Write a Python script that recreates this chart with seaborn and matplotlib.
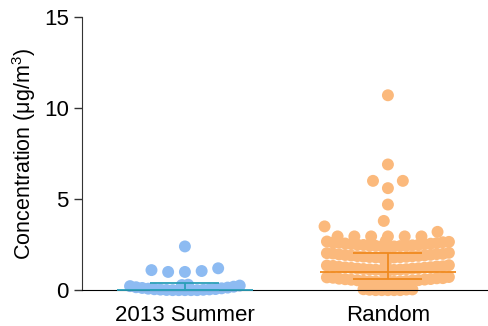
import pandas as pd
import seaborn as sns
import matplotlib
matplotlib.use("Agg")
import matplotlib.pyplot as plt

categories = ["2013 Summer", "Random"]

# closely packed (overlapping) points near the bottom of each column
summer_dense = [0.0, 0.0, 0.0, 0.0, 0.0, 0.01, 0.02, 0.03, 0.04, 0.05, 0.06, 0.08, 0.1,
                0.12, 0.14, 0.16, 0.19, 0.22, 0.25, 0.28, 0.3]
random_dense = [
    0.0, 0.0, 0.0, 0.0, 0.0, 0.02, 0.03, 0.04, 0.05,
    0.45, 0.45, 0.46, 0.47, 0.48, 0.49, 0.5, 0.51, 0.53, 0.54, 0.55, 0.57, 0.58, 0.6,
    0.61, 0.63, 0.65, 0.66, 0.68, 0.7, 0.72, 0.75,
    1.1, 1.1, 1.11, 1.12, 1.13, 1.14, 1.15, 1.16, 1.18, 1.19, 1.2, 1.22, 1.23, 1.25,
    1.26, 1.28, 1.3, 1.31, 1.33, 1.35, 1.37, 1.4,
    1.78, 1.78, 1.79, 1.8, 1.81, 1.82, 1.83, 1.84, 1.86, 1.87, 1.88, 1.9, 1.91, 1.93,
    1.94, 1.96, 1.98, 1.99, 2.01, 2.03, 2.05, 2.08,
    2.4, 2.4, 2.41, 2.42, 2.43, 2.44, 2.45, 2.46, 2.48, 2.49, 2.5, 2.52, 2.53, 2.55,
    2.56, 2.58, 2.6, 2.61, 2.63, 2.65, 2.67, 2.7,
]
# separated points higher up
summer_sparse = [1.0, 1.0, 1.05, 1.1, 1.2, 2.4]
random_sparse = [2.95, 2.95, 2.95, 2.95, 2.95, 2.95, 3.2, 3.5, 3.8, 4.7, 5.6, 6.0, 6.0,
                 6.9, 10.7]

# median and interquartile range drawn over each column
medians = [0.03, 0.99]
q1s = [0.0, 0.62]
q3s = [0.38, 2.03]

point_colors = ["#8dbbf2", "#fbb97c"]
line_colors = ["#2a9fb8", "#ef8a1f"]

dense_df = pd.DataFrame({
    "group": [categories[0]] * len(summer_dense) + [categories[1]] * len(random_dense),
    "value": summer_dense + random_dense,
})
sparse_df = pd.DataFrame({
    "group": [categories[0]] * len(summer_sparse) + [categories[1]] * len(random_sparse),
    "value": summer_sparse + random_sparse,
})

sns.set_style("ticks")
plt.rcParams["font.family"] = ["Liberation Sans", "DejaVu Sans"]
plt.rcParams["mathtext.default"] = "regular"
plt.rcParams["text.color"] = "black"
plt.rcParams["axes.labelcolor"] = "black"
plt.rcParams["xtick.color"] = "black"
plt.rcParams["ytick.color"] = "black"

fig = plt.figure(figsize=(4.88, 3.26), dpi=100)
ax = fig.add_axes([0.168, 0.110, 0.832, 0.838])

# swarm layout with a small spacing marker, then display larger overlapping markers
sns.swarmplot(data=dense_df, x="group", y="value", hue="group", palette=point_colors,
              order=categories, hue_order=categories, size=4.2, linewidth=0, ax=ax,
              legend=False, zorder=2)
sns.swarmplot(data=sparse_df, x="group", y="value", hue="group", palette=point_colors,
              order=categories, hue_order=categories, size=11.5, linewidth=0, ax=ax,
              legend=False, zorder=2)
ax.set_xlim(-0.507, 1.493)
ax.set_ylim(0, 15)
fig.canvas.draw()
for coll in ax.collections:
    if "draw" in coll.__dict__:
        del coll.draw
    coll.set_sizes([8.6 ** 2])
    coll.set_clip_on(False)

for i in range(len(categories)):
    ax.hlines(medians[i], i - 0.335, i + 0.335, color=line_colors[i], lw=1.3, zorder=3,
              clip_on=False)
    ax.hlines([q1s[i], q3s[i]], i - 0.17, i + 0.17, color=line_colors[i], lw=1.3, zorder=3,
              clip_on=False)
    ax.vlines(i, q1s[i], q3s[i], color=line_colors[i], lw=1.3, zorder=3, clip_on=False)

ax.set_xlim(-0.507, 1.493)
ax.set_ylim(0, 15)
ax.set_yticks([0, 5, 10, 15])
ax.set_xlabel("")
ax.set_ylabel("Concentration (μg/m$^3$)", fontsize=15.5)
ax.tick_params(axis="y", labelsize=16, length=6, width=1, color="#333333")
ax.tick_params(axis="x", labelsize=16, length=3, width=1, pad=8)
sns.despine(ax=ax, top=True, right=True)
ax.spines["left"].set_color("#333333")
ax.spines["bottom"].set_color("black")

fig.savefig("out.png", dpi=100)
